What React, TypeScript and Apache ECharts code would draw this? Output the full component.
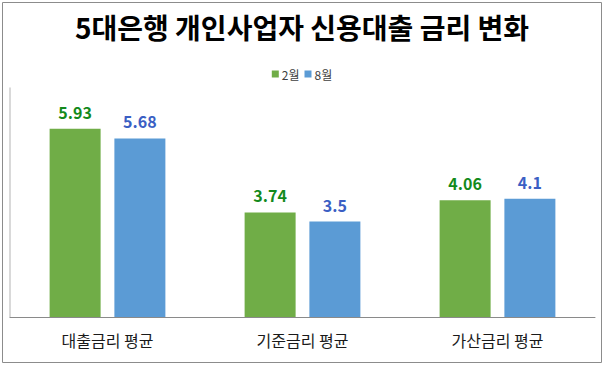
import React, { useEffect, useRef } from "react";
import * as echarts from "echarts";

const categories = ["대출금리 평균", "기준금리 평균", "가산금리 평균"];
const seriesNames = ["2월", "8월"];
const febValues = [5.93, 3.74, 4.06];
const augValues = [5.68, 3.5, 4.1];

const FONT = "'Noto Sans CJK KR', 'Noto Sans', sans-serif";

export default function App() {
  const ref = useRef<HTMLDivElement>(null);
  useEffect(() => {
    if (!ref.current) return;
    const chart = echarts.init(ref.current, null, { renderer: "svg" });
    chart.setOption({
      animation: false,
      backgroundColor: "#ffffff",
      textStyle: { fontFamily: FONT },
      title: {
        text: "5대은행 개인사업자 신용대출 금리 변화",
        left: "center",
        top: 8,
        textStyle: { fontFamily: FONT, fontSize: 28, fontWeight: "bold", color: "#000000" },
      },
      legend: {
        data: seriesNames,
        left: "center",
        top: 63,
        itemWidth: 7,
        itemHeight: 7,
        itemGap: 5,
        icon: "rect",
        textStyle: { fontFamily: FONT, fontSize: 12, color: "#404040", padding: [0, 0, 0, -2] },
      },
      graphic: [
        {
          type: "rect",
          shape: { x: 2.5, y: 2.5, width: 599, height: 360 },
          style: { fill: "none", stroke: "#8c8c8c", lineWidth: 1 },
          silent: true,
        },
      ],
      grid: { left: 10, right: 9, top: 88, bottom: 50, containLabel: false },
      xAxis: {
        type: "category",
        data: categories,
        axisLine: { show: true, lineStyle: { color: "#8a8a8a", width: 1 } },
        axisTick: { show: false },
        axisLabel: { fontFamily: FONT, fontSize: 16, color: "#1a1a1a", margin: 15 },
      },
      yAxis: {
        type: "value",
        min: 1,
        max: 7,
        axisLine: { show: true, lineStyle: { color: "#cccccc", width: 1.5 } },
        axisTick: { show: false },
        axisLabel: { show: false },
        splitLine: { show: false },
      },
      series: [
        {
          name: seriesNames[0],
          type: "bar",
          data: febValues,
          barWidth: 51,
          barGap: "27%",
          itemStyle: { color: "#70ad47" },
          label: {
            show: true,
            position: "top",
            distance: 9,
            fontFamily: FONT,
            fontSize: 16,
            fontWeight: "bold",
            color: "#138a1c",
          },
        },
        {
          name: seriesNames[1],
          type: "bar",
          data: augValues,
          barWidth: 51,
          barGap: "27%",
          itemStyle: { color: "#5b9bd5" },
          label: {
            show: true,
            position: "top",
            distance: 9,
            fontFamily: FONT,
            fontSize: 16,
            fontWeight: "bold",
            color: "#3b5fc4",
          },
        },
      ],
    });
    return () => chart.dispose();
  }, []);
  return (
    <div
      ref={ref}
      style={{ position: "absolute", left: 0, top: 0, width: 604, height: 367 }}
    />
  );
}
